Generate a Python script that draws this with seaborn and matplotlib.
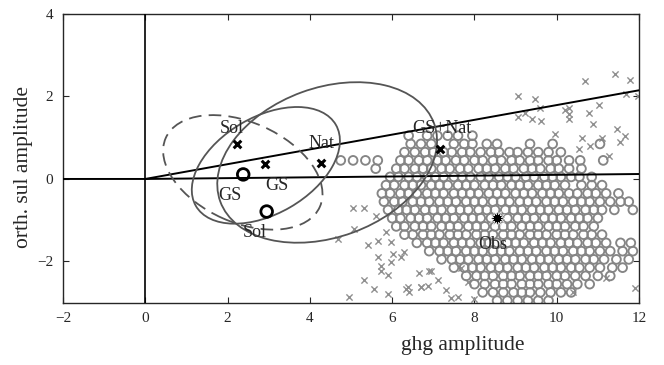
import matplotlib
matplotlib.use("Agg")
import matplotlib.pyplot as plt
from matplotlib.patches import Ellipse
import pandas as pd
import seaborn as sns

# reference lines (x, y vertices)
axis_line_x = [-2, 0, 12]
axis_line_y = [0, 0, 0.12]
slope_line_x = [0, 12]
slope_line_y = [0, 2.15]

# model estimates
cross_x = [2.22, 2.91, 4.27, 7.16]
cross_y = [0.84, 0.37, 0.39, 0.73]
ring_x = [2.38, 2.95]
ring_y = [0.11, -0.79]
obs_x = [8.55]
obs_y = [-0.95]

# labels
label_text = ["Sol", "Nat", "GS+Nat", "GS", "GS", "Sol", "Obs"]
label_x = [2.10, 4.29, 7.20, 2.06, 3.20, 2.67, 8.45]
label_y = [1.22, 0.85, 1.22, -0.40, -0.16, -1.29, -1.58]

# confidence ellipses: centre, width, height, angle
ell_cx = [4.42, 2.93, 2.37]
ell_cy = [0.40, 0.33, 0.16]
ell_w = [5.53, 3.93, 4.10]
ell_h = [3.62, 2.35, 2.43]
ell_ang = [20, 30, -24]
ell_ls = ["-", "-", (0, (7, 4))]

# sampled ghg/sul amplitudes (circles), read row by row
circle_row_y = [1.05, 0.85, 0.65, 0.45, 0.25, 0.05, -0.15, -0.35, -0.55, -0.75,
                -0.95, -1.15, -1.35, -1.55, -1.75, -1.95, -2.15, -2.35, -2.55,
                -2.75, -2.95]
circle_row_x = [
    [6.4, 6.85, 7.1, 7.35, 7.6, 7.95],
    [6.45, 6.7, 6.95, 7.5, 7.75, 7.95, 8.3, 8.55, 9.35, 9.9, 11.05],
    [6.3, 6.55, 6.8, 7.0, 7.25, 7.45, 7.7, 7.9, 8.15, 8.4, 8.6, 8.85, 9.05, 9.3,
     9.55, 9.8, 10.1],
    [4.75, 5.05, 5.35, 5.65, 6.2, 6.4, 6.65, 6.85, 7.1, 7.3, 7.55, 7.75, 8.0, 8.2,
     8.45, 8.65, 8.9, 9.1, 9.35, 9.55, 9.8, 10.0, 10.3, 10.57, 11.13],
    [5.6, 6.1, 6.3, 6.55, 6.75, 6.95, 7.2, 7.4, 7.65, 7.85, 8.1, 8.3, 8.5, 8.75,
     8.95, 9.2, 9.4, 9.6, 9.85, 10.05, 10.3, 10.6],
    [5.95, 6.15, 6.4, 6.6, 6.85, 7.05, 7.25, 7.5, 7.7, 7.9, 8.15, 8.35, 8.6, 8.8,
     9.0, 9.25, 9.45, 9.7, 9.9, 10.1, 10.35, 10.55, 10.85],
    [5.85, 6.05, 6.3, 6.5, 6.7, 6.95, 7.15, 7.35, 7.6, 7.8, 8.0, 8.25, 8.45, 8.65,
     8.9, 9.1, 9.3, 9.55, 9.75, 9.95, 10.2, 10.6, 10.85, 11.1],
    [5.75, 5.95, 6.2, 6.4, 6.6, 6.85, 7.05, 7.25, 7.5, 7.7, 7.9, 8.1, 8.35, 8.55,
     8.75, 9.0, 9.2, 9.4, 9.65, 9.85, 10.05, 10.3, 10.5, 10.75, 10.95, 11.2, 11.5],
    [5.8, 6.05, 6.25, 6.5, 6.7, 6.9, 7.15, 7.35, 7.55, 7.8, 8.0, 8.2, 8.45, 8.65,
     8.85, 9.1, 9.3, 9.5, 9.75, 9.95, 10.15, 10.4, 10.6, 10.8, 11.05, 11.3, 11.55,
     11.75],
    [5.9, 6.15, 6.35, 6.55, 6.8, 7.0, 7.2, 7.45, 7.65, 7.85, 8.1, 8.3, 8.5, 8.75,
     8.95, 9.15, 9.4, 9.6, 9.8, 10.05, 10.25, 10.45, 10.7, 10.9, 11.1, 11.4, 11.85],
    [6.0, 6.2, 6.45, 6.65, 6.85, 7.1, 7.3, 7.5, 7.75, 7.95, 8.15, 8.4, 8.6, 8.8,
     9.05, 9.25, 9.45, 9.7, 9.9, 10.1, 10.35, 10.55, 10.75, 11.0],
    [6.1, 6.3, 6.55, 6.75, 6.95, 7.2, 7.4, 7.6, 7.85, 8.05, 8.25, 8.5, 8.7, 8.9,
     9.15, 9.35, 9.55, 9.8, 10.0, 10.2, 10.45, 10.65, 10.9],
    [6.3, 6.5, 6.75, 6.95, 7.15, 7.4, 7.6, 7.8, 8.05, 8.25, 8.45, 8.7, 8.9, 9.1,
     9.35, 9.55, 9.75, 10.0, 10.2, 10.4, 10.65, 10.85, 11.1],
    [6.6, 6.85, 7.05, 7.25, 7.5, 7.7, 7.9, 8.15, 8.35, 8.55, 8.8, 9.0, 9.2, 9.45,
     9.65, 9.85, 10.1, 10.3, 10.5, 10.75, 10.95, 11.2, 11.55, 11.8],
    [6.9, 7.15, 7.35, 7.55, 7.8, 8.0, 8.2, 8.45, 8.65, 8.85, 9.1, 9.3, 9.5, 9.75,
     9.95, 10.15, 10.4, 10.6, 10.8, 11.05, 11.3, 11.6, 11.85],
    [7.2, 7.45, 7.65, 7.85, 8.1, 8.3, 8.5, 8.75, 8.95, 9.15, 9.4, 9.6, 9.8, 10.05,
     10.25, 10.45, 10.7, 10.9, 11.15, 11.45, 11.75],
    [7.5, 7.75, 7.95, 8.15, 8.4, 8.6, 8.8, 9.05, 9.25, 9.45, 9.7, 9.9, 10.1, 10.35,
     10.55, 10.8, 11.05, 11.35, 11.6],
    [7.8, 8.05, 8.25, 8.45, 8.7, 8.9, 9.1, 9.35, 9.55, 9.75, 10.0, 10.2, 10.45,
     10.7, 11.0, 11.3],
    [8.0, 8.25, 8.5, 8.7, 8.9, 9.15, 9.35, 9.55, 9.8, 10.0, 10.25, 10.5, 10.8],
    [8.2, 8.45, 8.7, 8.95, 9.15, 9.35, 9.6, 9.85, 10.1, 10.35],
    [8.55, 8.8, 9.05, 9.3, 9.55, 9.8],
]

# sampled amplitudes (small crosses) outside the dense cloud
star_x = [9.07, 9.47, 9.60, 10.68, 11.41, 11.78, 11.68, 11.98, 10.29, 10.29, 10.29,
          11.02, 10.78, 10.88, 9.61, 9.22, 9.07, 9.95, 11.46, 11.66, 11.54, 10.61,
          11.10, 10.80, 11.27, 10.54, 10.20, 9.40,
          5.05, 5.32, 5.61, 5.07, 4.68, 5.41, 5.66, 6.02, 6.22, 5.73, 5.90, 5.32,
          5.56, 5.90, 4.95, 6.34, 6.71, 6.66, 6.90, 6.88, 5.73, 5.98, 6.41, 6.95,
          7.12, 7.44, 7.61, 6.71, 5.85, 5.98, 5.66, 6.29, 7.85, 7.68, 6.39,
          10.40, 11.90, 11.20, 7.30, 8.00]
star_y = [2.02, 1.95, 1.73, 2.37, 2.54, 2.41, 2.07, 2.02, 1.71, 1.58, 1.46,
          1.80, 1.61, 1.34, 1.41, 1.59, 1.51, 1.10, 1.22, 1.05, 0.90, 1.00,
          1.00, 0.80, 0.56, 0.73, 1.66, 1.45,
          -0.71, -0.71, -0.90, -1.22, -1.46, -1.59, -1.88, -1.83, -1.88, -2.12,
          -2.32, -2.44, -2.68, -2.80, -2.85, -2.68, -2.63, -2.27, -2.24, -2.59,
          -2.24, -2.02, -2.73, -2.24, -2.44, -2.88, -2.85, -2.61, -1.29, -1.54,
          -1.51, -1.78, -2.49, -2.15, -2.61,
          -2.75, -2.65, -2.40, -2.70, -2.90]

cloud = pd.DataFrame(
    [(x, y) for y, row in zip(circle_row_y, circle_row_x) for x in row],
    columns=["ghg", "sul"],
)
stars = pd.DataFrame({"ghg": star_x, "sul": star_y})

sns.set_style("ticks")
plt.rcParams["font.family"] = ["Liberation Serif", "DejaVu Serif"]

fig = plt.figure(figsize=(6.64, 3.65), dpi=100)
ax = fig.add_axes([0.0949, 0.1707, 0.8675, 0.791])

sns.scatterplot(data=stars, x="ghg", y="sul", marker="x", color="#8f8f8f",
                s=20, linewidth=1.0, ax=ax, zorder=1)
sns.scatterplot(data=cloud, x="ghg", y="sul", marker="o", facecolor="none",
                edgecolor="#858585", s=40, linewidth=1.35, ax=ax, zorder=1)

ax.plot(axis_line_x, axis_line_y, color="black", lw=1.4, zorder=3)
ax.plot(slope_line_x, slope_line_y, color="black", lw=1.4, zorder=3)
ax.axvline(0, color="black", lw=1.2, zorder=3)

for cx, cy, w, h, a, ls in zip(ell_cx, ell_cy, ell_w, ell_h, ell_ang, ell_ls):
    ax.add_patch(Ellipse((cx, cy), w, h, angle=a, fill=False, edgecolor="#555555",
                         lw=1.3, linestyle=ls, zorder=3))

sns.scatterplot(x=cross_x, y=cross_y, marker="x", color="black", s=30,
                linewidth=2.2, ax=ax, zorder=4)
sns.scatterplot(x=ring_x, y=ring_y, marker="o", facecolor="none", edgecolor="black",
                s=70, linewidth=2.0, ax=ax, zorder=4)
sns.scatterplot(x=obs_x, y=obs_y, marker=(12, 1, 0), color="black", s=130,
                linewidth=0.5, ax=ax, zorder=4)

for t, x, y in zip(label_text, label_x, label_y):
    ax.text(x, y, t, ha="center", va="center", fontsize=13, zorder=5)

ax.set_xlim(-2, 12)
ax.set_ylim(-3, 4)
ax.set_xticks([-2, 0, 2, 4, 6, 8, 10, 12])
ax.set_yticks([-2, 0, 2, 4])
ax.tick_params(direction="in", top=True, right=True, length=4, width=0.8,
               labelsize=11, pad=7)
for sp in ax.spines.values():
    sp.set_linewidth(1.0)

ax.set_xlabel("ghg amplitude", fontsize=15.5)
ax.set_ylabel("orth. sul amplitude", fontsize=15.5)
ax.xaxis.set_label_coords(0.694, -0.115)
ax.yaxis.set_label_coords(-0.052, 0.47)

fig.savefig("out.png", dpi=100)
